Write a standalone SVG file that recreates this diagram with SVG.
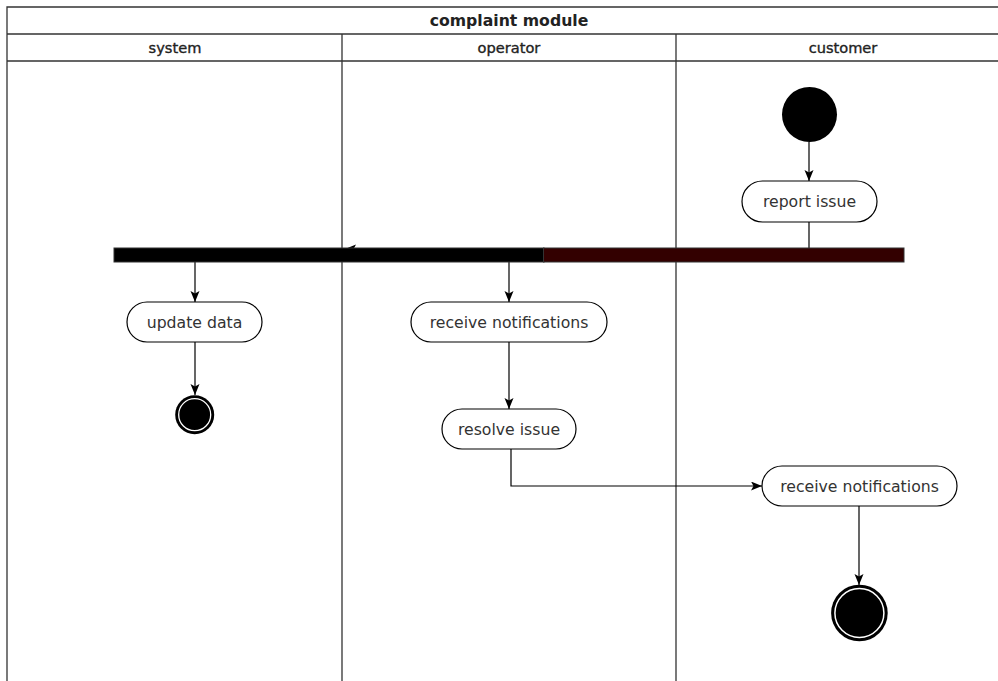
<svg xmlns="http://www.w3.org/2000/svg" width="998" height="681" viewBox="0 0 998 681">
<style>
.lane{fill:none;stroke:#333;stroke-width:1.3}
.title{font-family:"DejaVu Sans",Verdana,sans-serif;font-weight:bold;font-size:15.7px;fill:#222;text-anchor:middle;dominant-baseline:central}
.lh{font-family:"DejaVu Sans",Verdana,sans-serif;font-size:14.6px;fill:#222;stroke:#222;stroke-width:0.35;text-anchor:middle;dominant-baseline:central}
.act rect{fill:#fff;stroke:#000;stroke-width:1.2}
.act text{font-family:"DejaVu Sans",Verdana,sans-serif;font-size:15.7px;fill:#333;text-anchor:middle;dominant-baseline:central}
.edge{fill:none;stroke:#000;stroke-width:1.2}
</style>
<defs>
<marker id="arr" markerUnits="userSpaceOnUse" markerWidth="13" markerHeight="10" refX="11" refY="4.5" orient="auto">
<path d="M0,0 L11,4.5 L0,9 L2.5,4.5 Z" fill="#000"/>
</marker>
</defs>
<rect width="998" height="681" fill="#fff"/>
<g id="pool">
<path class="lane" d="M7,681 V7 H1011 M7,34 H1011 M7,61 H1011 M342,34 V681 M676,34 V681"/>
<text class="title" x="509" y="20.5">complaint module</text>
<text class="lh" x="175" y="47.5">system</text>
<text class="lh" x="509" y="47.5">operator</text>
<text class="lh" x="843" y="47.5">customer</text>
</g>
<g id="connectors">
<path class="edge" d="M809,142 V181" marker-end="url(#arr)"/>
<path class="edge" d="M809,222 V249 H345" marker-end="url(#arr)"/>
<path class="edge" d="M195,262 V302" marker-end="url(#arr)"/>
<path class="edge" d="M509,262 V302" marker-end="url(#arr)"/>
<path class="edge" d="M195,342 V395" marker-end="url(#arr)"/>
<path class="edge" d="M509,342 V409" marker-end="url(#arr)"/>
<path class="edge" d="M511,449 V486 H762" marker-end="url(#arr)"/>
<path class="edge" d="M859,506 V585" marker-end="url(#arr)"/>
</g>
<g id="start">
<circle cx="809.5" cy="114.5" r="27.5" fill="#000"/>
</g>
<g id="fork">
<rect x="114" y="248" width="430" height="14" fill="#000" stroke="#333" stroke-width="1"/>
<rect x="543.5" y="248" width="360.5" height="14" fill="#330000" stroke="#333" stroke-width="1"/>
</g>
<g id="report-issue" class="act">
<rect x="742" y="181" width="135" height="41" rx="20.5"/>
<text x="809.5" y="201.5">report issue</text>
</g>
<g id="update-data" class="act">
<rect x="127" y="302" width="135" height="40" rx="20"/>
<text x="194.5" y="322">update data</text>
</g>
<g id="op-receive" class="act">
<rect x="411" y="302" width="196" height="40" rx="20"/>
<text x="509" y="322">receive notifications</text>
</g>
<g id="resolve-issue" class="act">
<rect x="442" y="409" width="134" height="40" rx="20"/>
<text x="509" y="429">resolve issue</text>
</g>
<g id="cust-receive" class="act">
<rect x="762" y="466" width="195" height="40" rx="20"/>
<text x="859.5" y="486">receive notifications</text>
</g>
<g id="end-system">
<circle cx="194.7" cy="414.7" r="19.5" fill="#000"/>
<circle cx="194.7" cy="414.7" r="16" fill="#000" stroke="#fff" stroke-width="1.3"/>
</g>
<g id="end-customer">
<circle cx="859.4" cy="613" r="28.3" fill="#000"/>
<circle cx="859.4" cy="613" r="24.5" fill="#000" stroke="#fff" stroke-width="1.5"/>
</g>
</svg>
